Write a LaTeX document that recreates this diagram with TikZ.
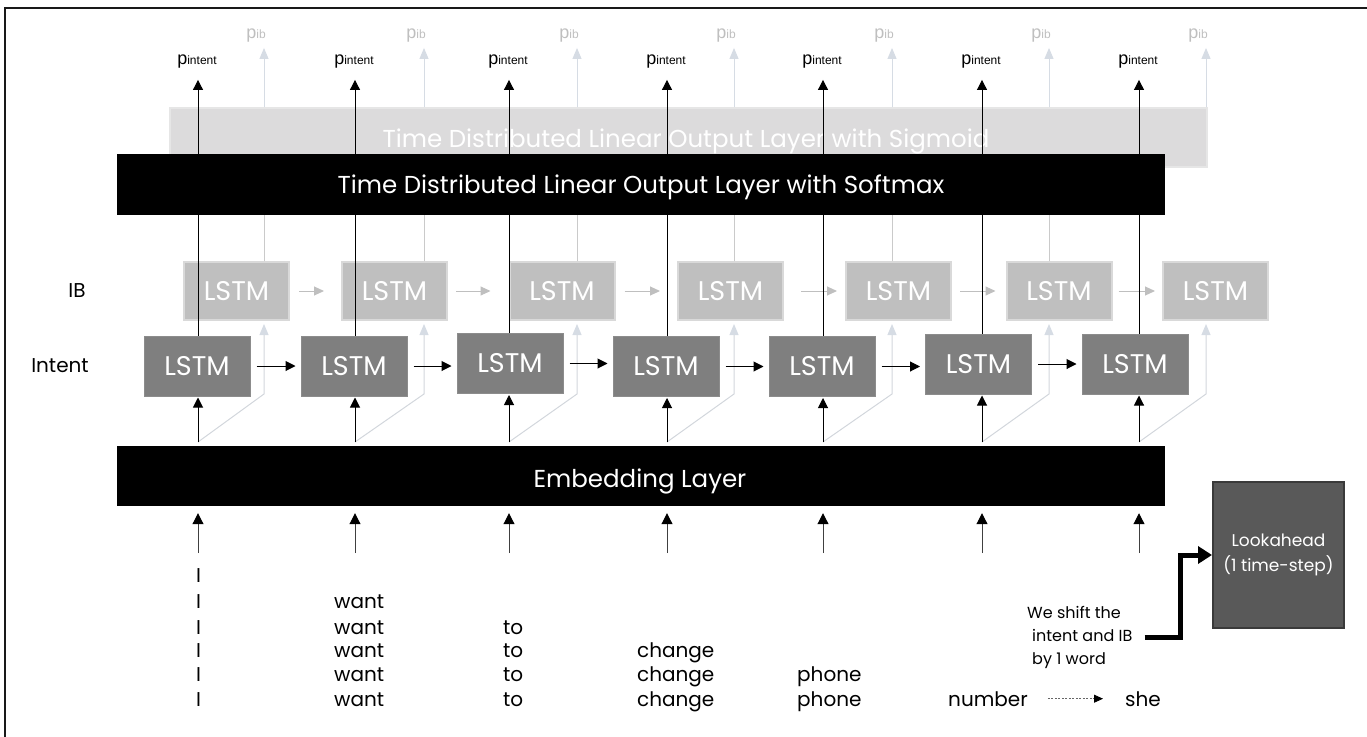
\documentclass[tikz,border=0pt]{standalone}
\usepackage{fontspec}
\setmainfont{Poppins}
\newfontfamily\plabelfont{Liberation Sans}
\usetikzlibrary{arrows.meta}

\definecolor{sigfill}{HTML}{DCDBDC}
\definecolor{sigedge}{HTML}{E6E6E6}
\definecolor{ibfill}{HTML}{BFBFBF}
\definecolor{ibedge}{HTML}{D9D9D9}
\definecolor{infill}{HTML}{7F7F7F}
\definecolor{inedge}{HTML}{8C8C8C}
\definecolor{ibblue}{HTML}{D6DCE4}
\definecolor{ibdiag}{HTML}{D2D6DC}
\definecolor{ibup}{HTML}{CACACA}
\definecolor{pibtext}{HTML}{BFBFBF}
\definecolor{lookfill}{HTML}{595959}
\definecolor{lookedge}{HTML}{3A3A3A}

\tikzset{
  layerbox/.style={fill=black, draw=black, minimum width=1047pt, minimum height=60pt},
  layertext/.style={text=white, anchor=base, font=\fontsize{24.5}{28}\selectfont},
  sigbox/.style={fill=sigfill, draw=sigedge, line width=2pt, minimum width=1037pt, minimum height=59pt},
  intentbox/.style={fill=infill, draw=inedge, line width=1pt, minimum width=106pt, minimum height=60pt,
    text=white, font=\fontsize{27}{30}\selectfont},
  ibbox/.style={fill=ibfill, draw=ibedge, line width=2pt, minimum width=105pt, minimum height=58pt,
    text=white, font=\fontsize{27}{30}\selectfont},
  rowlabel/.style={font=\fontsize{20}{24}\selectfont},
  pintlabel/.style={anchor=base, text=black},
  piblabel/.style={anchor=base east, text=pibtext},
  blkarrow/.style={draw=black, line width=1pt, -{Triangle[length=10pt,width=10pt]}},
  thinarrow/.style={draw=black!75, line width=1pt, -{Triangle[length=11pt,width=11pt,color=black,fill=black]}},
  spine/.style={draw=black, line width=1pt, -{Triangle[length=10pt,width=10pt]}},
  ibarrow/.style={draw=ibdiag, line width=1pt, -{Triangle[length=11pt,width=9pt,color=ibblue,fill=ibblue]}},
  ibtop/.style={draw=ibblue, line width=1pt, -{Triangle[length=11pt,width=9pt,color=ibblue,fill=ibblue]}},
  ibupline/.style={draw=ibup, line width=1pt},
  ibhoriz/.style={draw=ibfill, line width=1pt, -{Triangle[length=10pt,width=9pt]}},
  word/.style={anchor=base west, font=\fontsize{20}{24}\selectfont},
  lookbox/.style={fill=lookfill, draw=lookedge, line width=2pt, minimum width=131pt, minimum height=146pt,
    text=white, align=center, font=\fontsize{17}{25}\selectfont},
  shiftnote/.style={anchor=west, align=left, font=\fontsize{16}{23}\selectfont},
  bigarrow/.style={draw=black, line width=5pt, -{Triangle[length=14pt,width=17pt]}},
  dotarrow/.style={draw=black!60, line width=0.8pt, dash pattern=on 2pt off 1.5pt,
    -{Triangle[length=9pt,width=8pt,color=black,fill=black]}},
}

\newcommand\pint{{\plabelfont\fontsize{18}{20}\selectfont p\fontsize{12}{14}\selectfont intent}}
\newcommand\pib{{\plabelfont\fontsize{18}{20}\selectfont p\fontsize{12}{14}\selectfont ib}}

\begin{document}
\begin{tikzpicture}[x=1pt, y=-1pt, every node/.style={inner sep=0pt}]
\useasboundingbox (0,0) rectangle (1367,736);

% frame (left and top edges)
\draw[line width=1.5pt, black!90] (5,740) -- (5,8) -- (1370,8);

% sigmoid output layer (background)
\node[sigbox] (sig) at (688.5,137.5) {};
\node[layertext, text=white] (sigtext) at (686,147) {Time Distributed Linear Output Layer with Sigmoid};

% IB recurrent layer
\node[ibbox] (b1) at (236.5,291) {LSTM};
\node[ibbox] (b2) at (394.5,291) {LSTM};
\node[ibbox] (b3) at (562,291) {LSTM};
\node[ibbox] (b4) at (730.5,291) {LSTM};
\node[ibbox] (b5) at (898.5,291) {LSTM};
\node[ibbox] (b6) at (1059,291) {LSTM};
\node[ibbox] (b7) at (1215.5,291) {LSTM};

% intent recurrent layer
\node[intentbox] (i1) at (197,366) {LSTM};
\node[intentbox] (i2) at (354,366) {LSTM};
\node[intentbox] (i3) at (510,363.5) {LSTM};
\node[intentbox] (i4) at (666,366.5) {LSTM};
\node[intentbox] (i5) at (822,366.5) {LSTM};
\node[intentbox] (i6) at (978.5,364) {LSTM};
\node[intentbox] (i7) at (1135,364) {LSTM};

% row labels
\node[rowlabel] (iblabel) at (77,291) {IB};
\node[rowlabel] (intentlabel) at (60,366) {Intent};

% output labels and column coordinates
\foreach \k/\s/\c in {1/198/264, 2/355/424, 3/509/577, 4/667/734, 5/823/892, 6/982/1049, 7/1139/1206}{
  \node[pintlabel] (pi\k) at (\s-1,64) {\pint};
  \node[piblabel] (pb\k) at (\c+2,38) {\pib};
  \coordinate (e\k) at (\s,442);
  \coordinate (k\k) at (\c,394);
  \coordinate (w\k) at (\s,553);
}

% IB connectors
\foreach \k in {1,...,7}{
  \draw[ibarrow] (e\k) -- (k\k) -- ([yshift=-3pt]b\k.south -| k\k);
  \draw[ibtop, shorten >=6pt] (sig.north -| k\k) -- (pb\k.south -| k\k);
}
\foreach \k in {1,...,6}{
  \draw[ibupline] (b\k.north -| k\k) -- (sig.south -| k\k);
}
\foreach \k/\n/\a/\b in {1/2/9/17, 2/3/8/18, 3/4/9/17, 4/5/17/8, 5/6/8/10, 6/7/6/7}{
  \draw[ibhoriz, shorten <=\a pt, shorten >=\b pt] (b\k.east) -- (b\k.east -| b\n.west);
}

% intent connectors
\foreach \k in {1,...,7}{
  \draw[spine] (i\k.north -| e\k) -- ([yshift=-12pt]pi\k.south -| e\k);
  \draw[blkarrow, shorten >=1pt] (e\k) -- (i\k.south -| e\k);
}
\foreach \k/\n in {1/2, 2/3, 3/4, 4/5, 5/6, 6/7}{
  \draw[blkarrow, shorten <=6pt, shorten >=5pt] (i\k.east) -- (i\k.east -| i\n.west);
}

% softmax output layer and embedding layer
\node[layerbox] (soft) at (640.5,184) {};
\node[layertext] (softtext) at (641,193) {Time Distributed Linear Output Layer with Softmax};
\node[layerbox, minimum height=59pt] (emb) at (640.5,475.5) {};
\node[layertext] (embtext) at (640,487) {Embedding Layer};

% word inputs
\foreach \k in {1,...,7}{
  \draw[thinarrow, shorten >=8pt] (w\k) -- (emb.south -| w\k);
}
\foreach \r/\y in {1/582, 2/608, 3/634, 4/657, 5/681, 6/706}{
  \node[word] (wi\r) at (196,\y) {I};
}
\foreach \r/\y in {2/608, 3/634, 4/657, 5/681, 6/706}{
  \node[word] (wwant\r) at (334,\y) {want};
}
\foreach \r/\y in {3/634, 4/657, 5/681, 6/706}{
  \node[word] (wto\r) at (503,\y) {to};
}
\foreach \r/\y in {4/657, 5/681, 6/706}{
  \node[word] (wchange\r) at (637,\y) {change};
}
\foreach \r/\y in {5/681, 6/706}{
  \node[word] (wphone\r) at (797,\y) {phone};
}
\node[word] (wnum) at (948,706) {number};
\node[word] (wshe) at (1125,706) {she};
\draw[dotarrow, shorten <=20pt, shorten >=22pt] (wnum.east) -- (wnum.east -| wshe.west);

% lookahead
\node[lookbox] (look) at (1278.5,555) {Lookahead\\(1 time-step)};
\node[shiftnote] (shift) at (1027,637) {We shift the\\\hspace{5pt}intent and IB\\\hspace{5pt}by 1 word};
\coordinate (elbow) at (1180,600);
\draw[bigarrow] ([xshift=12pt]shift.east) -| (elbow) |- (look.west);

\end{tikzpicture}
\end{document}
